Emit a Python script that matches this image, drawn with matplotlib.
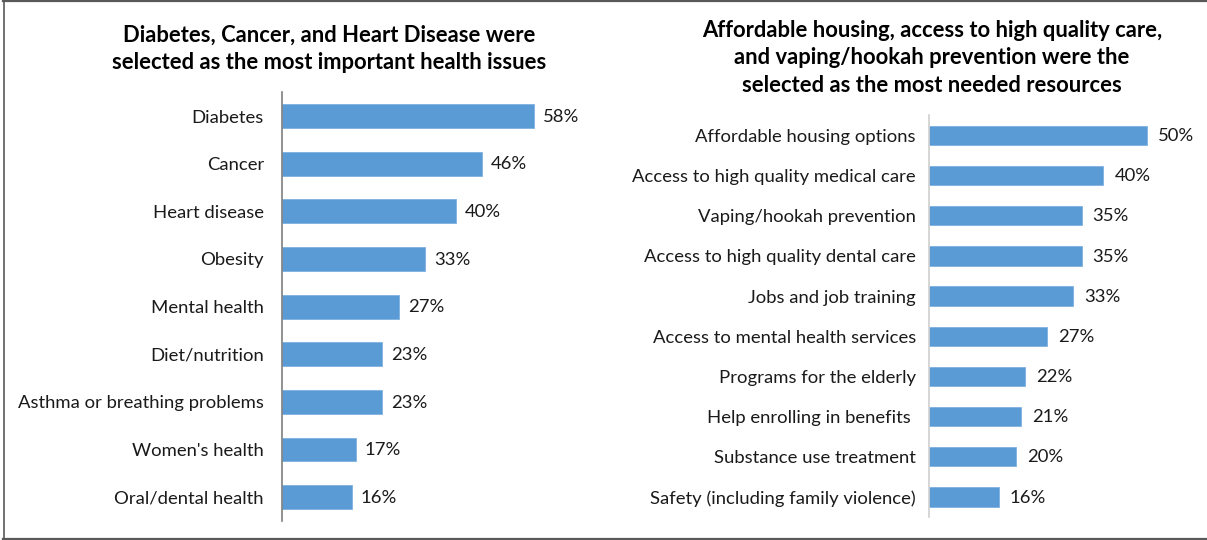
import matplotlib.pyplot as plt
from matplotlib.lines import Line2D

plt.rcParams['font.family'] = ['Lato', 'DejaVu Sans']

# health issues (left chart)
issues = ["Diabetes", "Cancer", "Heart disease", "Obesity", "Mental health",
          "Diet/nutrition", "Asthma or breathing problems", "Women's health",
          "Oral/dental health"]
issue_pct = [58, 46, 40, 33, 27, 23, 23, 17, 16]

# needed resources (right chart)
resources = ["Affordable housing options", "Access to high quality medical care",
             "Vaping/hookah prevention", "Access to high quality dental care",
             "Jobs and job training", "Access to mental health services",
             "Programs for the elderly", "Help enrolling in benefits ",
             "Substance use treatment", "Safety (including family violence)"]
resource_pct = [50, 40, 35, 35, 33, 27, 22, 21, 20, 16]

BAR = "#5B9BD5"
TXT = "#1a1a1a"
W, H = 1207, 540

fig = plt.figure(figsize=(W / 100, H / 100), dpi=100)
fig.patch.set_facecolor("white")


def px_axes(x0, top, x1, bottom):
    return fig.add_axes([x0 / W, 1 - bottom / H, (x1 - x0) / W, (bottom - top) / H])


def hbar(ax, labels, values, xmax, height, axis_color, gap, pad):
    y = list(range(len(labels)))
    ax.barh(y, values, height=height, color=BAR, edgecolor="#7fb1e0", linewidth=0.6)
    ax.set_ylim(len(labels) - 0.5, -0.5)
    ax.set_xlim(0, xmax)
    ax.set_yticks(y)
    ax.set_yticklabels(labels, fontsize=13.3, color=TXT)
    ax.tick_params(axis="y", length=0, pad=pad)
    ax.set_xticks([])
    for s in ["top", "right", "bottom"]:
        ax.spines[s].set_visible(False)
    ax.spines["left"].set_color(axis_color)
    ax.spines["left"].set_linewidth(1.2)
    for yi, v in zip(y, values):
        ax.annotate(f"{v}%", (v, yi), xytext=(gap, -0.5), textcoords="offset points",
                    va="center", ha="left", fontsize=13.3, color=TXT)


ax1 = px_axes(282, 92.2, 600, 521)
hbar(ax1, issues, issue_pct, 318 / 4.345, 0.5, "#7f7f7f", 6.5, 13)

ax2 = px_axes(929, 115.4, 1200, 517)
hbar(ax2, resources, resource_pct, 271 / 4.36, 0.48, "#d0d0d0", 8, 9.5)

fig.text(329 / W, 1 - 48.5 / H,
         "Diabetes, Cancer, and Heart Disease were\nselected as the most important health issues",
         ha="center", va="center", fontsize=15.8, fontweight="bold", color="black",
         linespacing=1.36)
fig.text(932 / W, 1 - 58 / H,
         "Affordable housing, access to high quality care,\nand vaping/hookah prevention were the\n"
         "selected as the most needed resources",
         ha="center", va="center", fontsize=15.8, fontweight="bold", color="black",
         linespacing=1.4)

# outer frame
frame = "#595959"
fig.add_artist(Line2D([3 / W, 1], [1 - 1 / H, 1 - 1 / H], color=frame, lw=1.6))
fig.add_artist(Line2D([3 / W, 1], [1.5 / H, 1.5 / H], color=frame, lw=1.6))
fig.add_artist(Line2D([3.5 / W, 3.5 / W], [1.5 / H, 1 - 1 / H], color=frame, lw=1.2))

fig.savefig("out.png", dpi=100)
